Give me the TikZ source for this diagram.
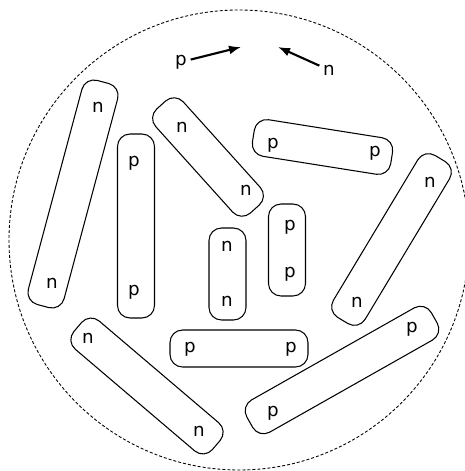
\documentclass[tikz,border=0pt]{standalone}
\usepackage{fontspec}
\setmainfont{DejaVu Sans}
\usepackage{tikz}
\usetikzlibrary{arrows.meta}
\tikzset{
  pill/.style={draw, line width=0.6pt, rounded corners=0.25cm, inner sep=0pt,
    minimum height=0.74cm},
  nuc/.style={inner sep=2pt},
  flight/.style={line width=1.2pt, -{Latex[length=0.24cm,width=0.18cm]}}
}

\begin{document}
\begin{tikzpicture}[x=0.02cm, y=-0.02cm, font=\fontsize{10.4}{12}\selectfont]
  \useasboundingbox (0,0) rectangle (465,471);
  \draw[line width=0.5pt, dash pattern=on 0.06cm off 0.04cm] (239,240) circle (230);

  % incoming nucleons
  \node[nuc] (pfree) at (181,62) {p};
  \node[nuc] (nfree) at (329,70) {n};
  \coordinate (ptip) at (241,47);
  \coordinate (ntip) at (278,47);
  \draw[flight] (pfree) -- (ptip);
  \draw[flight] (nfree) -- (ntip);

  % bound pairs
  \node[pill, minimum width=4.64cm, rotate=75] (nnA) at (73,194) {};
  \node[nuc] (nnAa) at (98,107) {n};
  \node[nuc] (nnAb) at (52,283) {n};

  \node[pill, minimum width=3.68cm, rotate=90] (ppA) at (136,226) {};
  \node[nuc] (ppAa) at (134,163) {p};
  \node[nuc] (ppAb) at (134,292) {p};

  \node[pill, minimum width=2.8cm, rotate=-48] (nnB) at (208,157) {};
  \node[nuc] (nnBa) at (182,127) {n};
  \node[nuc] (nnBb) at (246,190) {n};

  \node[pill, minimum width=2.8cm, rotate=-9] (ppB) at (322.5,147) {};
  \node[nuc] (ppBa) at (273,145) {p};
  \node[nuc] (ppBb) at (375,153) {p};

  \node[pill, minimum width=3.78cm, rotate=59] (nnC) at (391.5,239.5) {};
  \node[nuc] (nnCa) at (430,182) {n};
  \node[nuc] (nnCb) at (357,302) {n};

  \node[pill, minimum width=1.84cm, rotate=90] (nnD) at (227.5,274) {};
  \node[nuc] (nnDa) at (227,246) {n};
  \node[nuc] (nnDb) at (227,301) {n};

  \node[pill, minimum width=1.84cm, rotate=90] (ppC) at (287,250) {};
  \node[nuc] (ppCa) at (290,227) {p};
  \node[nuc] (ppCb) at (290,274) {p};

  \node[pill, minimum width=2.76cm] (ppD) at (239,348.5) {};
  \node[nuc] (ppDa) at (190,349) {p};
  \node[nuc] (ppDb) at (291,349) {p};

  \node[pill, minimum width=3.64cm, rotate=-40.4] (nnE) at (147,386) {};
  \node[nuc] (nnEa) at (88,338) {n};
  \node[nuc] (nnEb) at (199,431) {n};

  \node[pill, minimum width=4.24cm, rotate=29.5] (ppE) at (342,370) {};
  \node[nuc] (ppEa) at (412,329) {p};
  \node[nuc] (ppEb) at (273,413) {p};
\end{tikzpicture}
\end{document}
